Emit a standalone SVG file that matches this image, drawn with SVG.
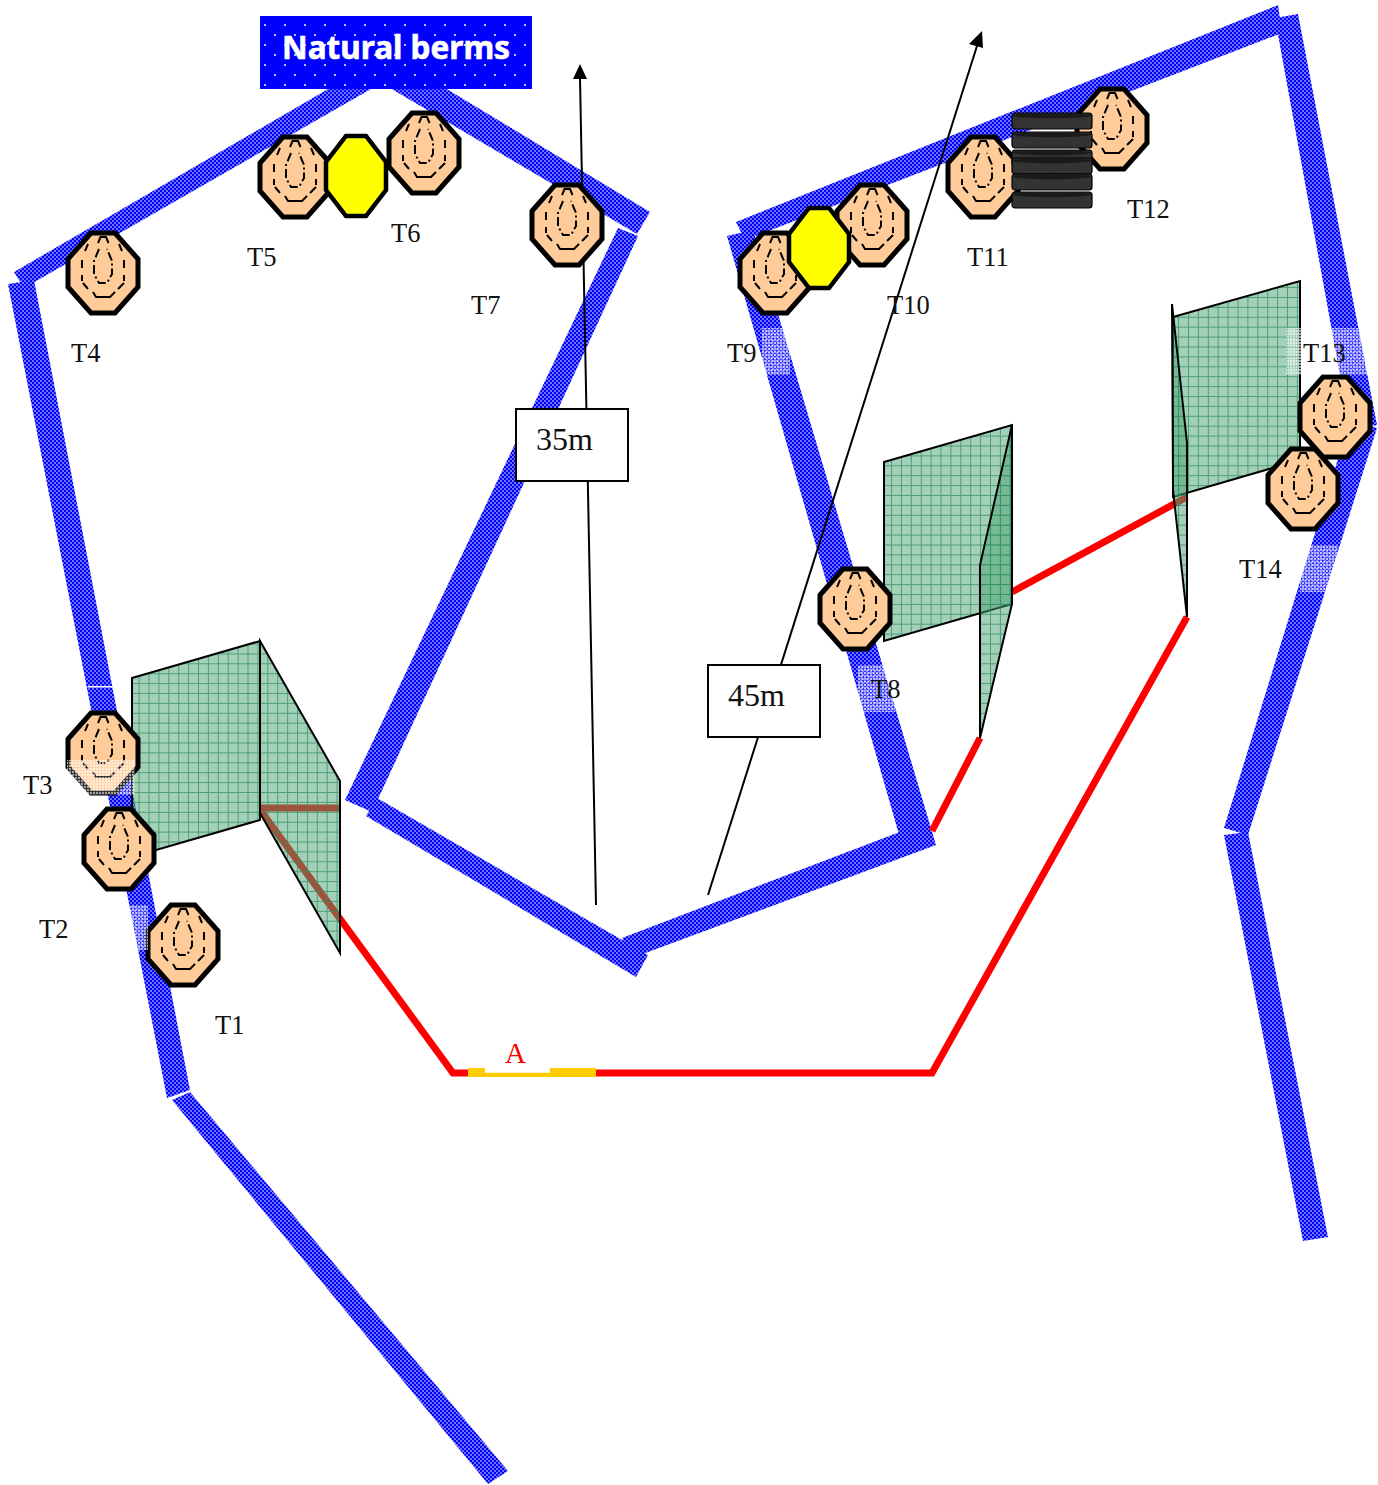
<svg xmlns="http://www.w3.org/2000/svg" width="1378" height="1485" viewBox="0 0 1378 1485">
<style>
.berm{fill:url(#bermFill)}
.panel{fill:url(#panelFill);stroke:#000;stroke-width:2;stroke-linejoin:miter}
.red{fill:none;stroke:#f00;stroke-width:7;stroke-linecap:butt;stroke-linejoin:miter}
.arrow{fill:none;stroke:#000;stroke-width:2}
.lbl{font-family:"Liberation Serif",serif;font-size:26.5px;fill:#111}
.dim{font-family:"Liberation Serif",serif;font-size:32px;fill:#111}
.fade{fill:url(#fadeFill)}
.oct{fill:#fc9;stroke:#000;stroke-width:5;stroke-linejoin:miter}
.ring{fill:none;stroke:#000;stroke-width:2}
.yel{fill:#ff0;stroke:#000;stroke-width:4.5}
.tire{fill:#333;stroke:#000;stroke-width:1.2}
</style>
<defs>
<pattern id="bermFill" width="4" height="4" patternUnits="userSpaceOnUse">
<rect width="4" height="4" fill="#00f"/>
<circle cx="1" cy="1" r=".8" fill="#fff"/>
<circle cx="3" cy="3" r=".8" fill="#fff"/>
</pattern>
<pattern id="boxFill" width="20" height="20" patternUnits="userSpaceOnUse">
<rect width="20" height="20" fill="#00f"/>
<circle cx="5" cy="5" r="1" fill="#fff"/>
<circle cx="15" cy="15" r="1" fill="#fff"/>
</pattern>
<pattern id="panelFill" width="9.9" height="9.9" patternUnits="userSpaceOnUse">
<rect width="9.9" height="9.9" fill="#47a171" fill-opacity=".5"/>
<path d="M0 .5H9.9M.5 0V9.9" stroke="#2f8f60" stroke-width="1" stroke-opacity=".75" fill="none"/>
</pattern>
<pattern id="fadeFill" width="3" height="3" patternUnits="userSpaceOnUse">
<rect width="2" height="2" fill="#fff" fill-opacity=".55"/>
<rect width="3" height="3" fill="#fff" fill-opacity=".2"/>
</pattern>
<g id="target">
<polygon class="oct" points="-12,-40 12,-40 35,-14 35,14 12,40 -12,40 -35,14 -35,-14"/>
<path class="ring" d="M-5,-30 L-2.5,-36 H3 L5.5,-30"/>
<path class="ring" d="M-15,-29 L-18,-22 M16,-29 L19,-22 M-21,-13 V-5 M21,-13 V-5 M-21,2 V8 M21,2 V8 M-20,10 L-15,16 M21,10 L15,16 M-10,19 L-7,24 H7 L12,19"/>
<path class="ring" stroke-dasharray="9 3 2 3" d="M-4,-24 L-9,-12 V1 L-4,10 H4 L9,1 V-12 L4,-24"/>
</g>
<polygon id="plug" class="yel" points="-10,-40 10,-40 30,-14 30,14 10,40 -10,40 -30,14 -30,-14"/>
<g id="tire">
<rect class="tire" x="0" y="0" width="80" height="16" rx="3" ry="3"/>
<ellipse cx="40" cy="2.6" rx="39.5" ry="2.6" fill="#1a1a1a"/>
</g>
</defs>

<g id="berms">
<polygon class="berm" points="14,272 335,85 378,85 24,288"/>
<polygon class="berm" points="385,85 440,85 650,212 637,234"/>
<polygon class="berm" points="8,284 34,280 190,1090 167,1098"/>
<polygon class="berm" points="172,1100 190,1092 508,1471 488,1484"/>
<polygon class="berm" points="618,228 638,236 372,812 345,800"/>
<polygon class="berm" points="377,798 648,955 636,977 366,816"/>
<polygon class="berm" points="622,938 905,830 936,845 632,958"/>
<polygon class="berm" points="727,236 753,230 936,845 900,838"/>
<polygon class="berm" points="736,222 1278,5 1282,33 745,240"/>
<polygon class="berm" points="1275,18 1298,14 1377,425 1350,430"/>
<polygon class="berm" points="1350,420 1377,428 1248,835 1224,828"/>
<polygon class="berm" points="1224,835 1248,832 1328,1237 1303,1241"/>
</g>

<g id="connectors">
<path class="red" d="M260,808 H340"/>
<path class="red" d="M261,811 L453,1073 H932 L1187,617"/>
<path class="red" d="M932,831 L980,738"/>
<path class="red" d="M1012,592 L1187,497"/>
<path d="M468,1068 H596 V1077 H468 Z" fill="#fc0"/>
<rect x="485" y="1067" width="65" height="5.7" fill="#fff"/>
</g>

<g id="barriers">
<polygon class="panel" points="132,678 260,641 260,820 132,857"/>
<polygon class="panel" points="260,641 340,781 340,953 260,813"/>
<polygon class="panel" points="884,462 1012,425 1012,604 884,641"/>
<polygon class="panel" points="1012,425 980,565 980,738 1012,604"/>
<polygon class="panel" points="1173,317 1300,281 1300,460 1173,497"/>
<polygon class="panel" points="1172,304 1187,443 1187,617 1173,490"/>
</g>

<g id="arrows">
<path class="arrow" d="M596,905 L580,78"/>
<polygon points="580,64 573,79 587,79" fill="#000"/>
<path class="arrow" d="M708,895 L977,46"/>
<polygon points="982,31 969,44 983,48" fill="#000"/>
</g>

<g id="T1" transform="translate(183,945)"><use href="#target"/></g>
<g id="T2" transform="translate(119,849)"><use href="#target"/></g>
<g id="T3" transform="translate(103,753)"><use href="#target"/></g>
<g id="T4" transform="translate(103,273)"><use href="#target"/></g>
<g id="T5" transform="translate(295,177)"><use href="#target"/></g>
<g id="T6" transform="translate(424,153)"><use href="#target"/></g>
<g id="T7" transform="translate(567,225)"><use href="#target"/></g>
<g id="T8" transform="translate(855,609)"><use href="#target"/></g>
<g id="T9" transform="translate(775,273)"><use href="#target"/></g>
<g id="T10" transform="translate(872,225)"><use href="#target"/></g>
<g id="T11" transform="translate(983,177)"><use href="#target"/></g>
<g id="T12" transform="translate(1112,129)"><use href="#target"/></g>
<g id="T13" transform="translate(1335,417)"><use href="#target"/></g>
<g id="T14" transform="translate(1303,489)"><use href="#target"/></g>

<g id="plug-left" transform="translate(356,176)"><use href="#plug"/></g>
<g id="plug-right" transform="translate(819,248)"><use href="#plug"/></g>

<g id="tires">
<use href="#tire" x="1012" y="113"/>
<use href="#tire" x="1012" y="132"/>
<use href="#tire" x="1012" y="150"/>
<use href="#tire" x="1012" y="158"/>
<use href="#tire" x="1012" y="174"/>
<use href="#tire" x="1012" y="192"/>
</g>

<g id="fades">
<rect class="fade" x="762" y="328" width="28" height="47"/>
<rect class="fade" x="1286" y="328" width="84" height="47"/>
<rect class="fade" x="1300" y="545" width="38" height="47"/>
<rect class="fade" x="858" y="665" width="37" height="47"/>
<rect class="fade" x="67" y="760" width="68" height="35"/>
<rect class="fade" x="130" y="905" width="18" height="45"/>
<rect x="88" y="686" width="26" height="1.5" fill="#fff"/>
</g>

<g id="natural-berms">
<rect x="260" y="16" width="272" height="73" fill="url(#boxFill)"/>
<text x="396" y="59" text-anchor="middle" font-family="'Noto Sans',sans-serif" font-weight="700" font-size="32" fill="#fff" stroke="#fff" stroke-width=".6" textLength="228" lengthAdjust="spacingAndGlyphs">Natural berms</text>
</g>

<g id="dim-35m">
<rect x="516" y="409" width="112" height="72" fill="#fff" stroke="#000" stroke-width="2"/>
<text class="dim" x="536" y="450">35m</text>
</g>
<g id="dim-45m">
<rect x="708" y="665" width="112" height="72" fill="#fff" stroke="#000" stroke-width="2"/>
<text class="dim" x="728" y="706">45m</text>
</g>

<g id="labels">
<text class="lbl" x="215" y="1034">T1</text>
<text class="lbl" x="39" y="938">T2</text>
<text class="lbl" x="23" y="794">T3</text>
<text class="lbl" x="71" y="362">T4</text>
<text class="lbl" x="247" y="266">T5</text>
<text class="lbl" x="391" y="242">T6</text>
<text class="lbl" x="471" y="314">T7</text>
<text class="lbl" x="871" y="698">T8</text>
<text class="lbl" x="727" y="362">T9</text>
<text class="lbl" x="887" y="314">T10</text>
<text class="lbl" x="967" y="266">T11</text>
<text class="lbl" x="1127" y="218">T12</text>
<text class="lbl" x="1303" y="362">T13</text>
<text class="lbl" x="1239" y="578">T14</text>
<text x="505" y="1063" font-family="'Liberation Serif',serif" font-size="29" fill="#f00">A</text>
</g>
</svg>
